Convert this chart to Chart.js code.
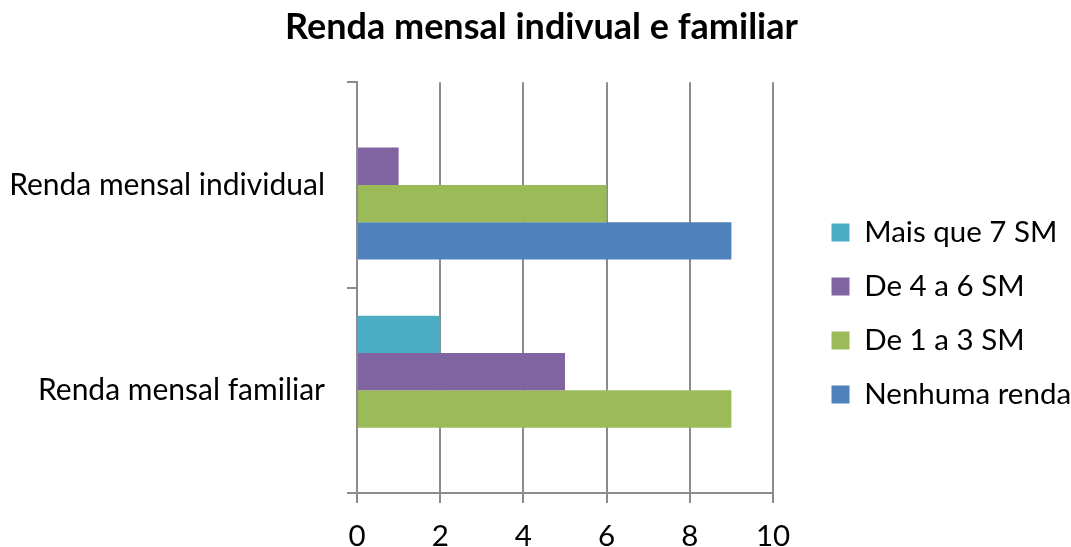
<!DOCTYPE html>
<html>
<head>
<meta charset="utf-8">
<script src="https://cdn.jsdelivr.net/npm/chart.js@4"></script>
<style>
    html, body { margin: 0; padding: 0; background: #fff; }
    #wrap { width: 1071px; height: 547px; }
</style>
</head>
<body>
<div id="wrap"><canvas id="rendaChart" width="1071" height="547"></canvas></div>
<script>
const categories = ['Renda mensal individual', 'Renda mensal familiar'];
const seriesNames = ['Mais que 7 SM', 'De 4 a 6 SM', 'De 1 a 3 SM', 'Nenhuma renda'];
const maisQue7 = [0, 2];
const de4a6 = [1, 5];
const de1a3 = [6, 9];
const nenhuma = [9, 0];
const xTicks = [0, 2, 4, 6, 8, 10];

const seriesValues = [maisQue7, de4a6, de1a3, nenhuma];
const colors = ['#4BACC6', '#8064A2', '#9BBB59', '#4F81BD'];
const gridColor = '#8c8c8c';
const fontFamily = 'Lato, "Open Sans", sans-serif';

// room kept for the legend on the right, and how far its items sit from the plot
const LEGEND_WIDTH = 298;
const LEGEND_DX = 34;
const LEGEND_DY = 40;
// fixed axis sizes so the plot lands where the original one does
const Y_AXIS_WIDTH = 345;
const X_AXIS_HEIGHT = 54;

Chart.defaults.font.family = fontFamily;
Chart.defaults.color = '#000';

const legendPlacement = {
    id: 'legendPlacement',
    beforeInit(chart) {
        const legend = chart.legend;
        if (!legend) return;
        const fit = legend.fit;
        legend.fit = function () {
            fit.call(this);
            this.width = LEGEND_WIDTH;
        };
    },
    afterLayout(chart) {
        const legend = chart.legend;
        if (!legend) return;
        legend.left += LEGEND_DX;
        legend.right += LEGEND_DX;
        legend.top += LEGEND_DY;
        legend.bottom += LEGEND_DY;
    },
};

const datasets = seriesNames.map((name, idx) => ({
    label: name,
    data: seriesValues[idx],
    backgroundColor: colors[idx],
    borderWidth: 0,
    barPercentage: 1,
    categoryPercentage: 0.727,
}));

new Chart(document.getElementById('rendaChart'), {
    type: 'bar',
    data: { labels: categories, datasets },
    plugins: [legendPlacement],
    options: {
        responsive: false,
        animation: false,
        indexAxis: 'y',
        layout: { padding: { top: 0, right: 0, bottom: 0, left: 12 } },
        plugins: {
            title: {
                display: true,
                text: 'Renda mensal indivual e familiar',
                font: { size: 36, weight: 'bold' },
                padding: { top: 6, bottom: 33 },
            },
            legend: {
                position: 'right',
                labels: {
                    font: { size: 29.5 },
                    boxWidth: 18,
                    boxHeight: 18,
                    padding: 24.5,
                },
            },
            tooltip: { enabled: false },
        },
        scales: {
            x: {
                min: 0,
                max: 10,
                afterBuildTicks: (axis) => { axis.ticks = xTicks.map((v) => ({ value: v })); },
                afterFit: (axis) => { axis.height = X_AXIS_HEIGHT; },
                grid: { color: gridColor, lineWidth: 2, tickLength: 10 },
                border: { color: gridColor, width: 2 },
                ticks: { font: { size: 29.5, lineHeight: 1 }, padding: 19 },
            },
            y: {
                afterFit: (axis) => { axis.width = Y_AXIS_WIDTH; },
                grid: { drawOnChartArea: false, color: gridColor, lineWidth: 2, tickLength: 10, offset: true },
                border: { color: gridColor, width: 2 },
                ticks: { font: { size: 30 }, padding: 22 },
            },
        },
    },
});
</script>
</body>
</html>
